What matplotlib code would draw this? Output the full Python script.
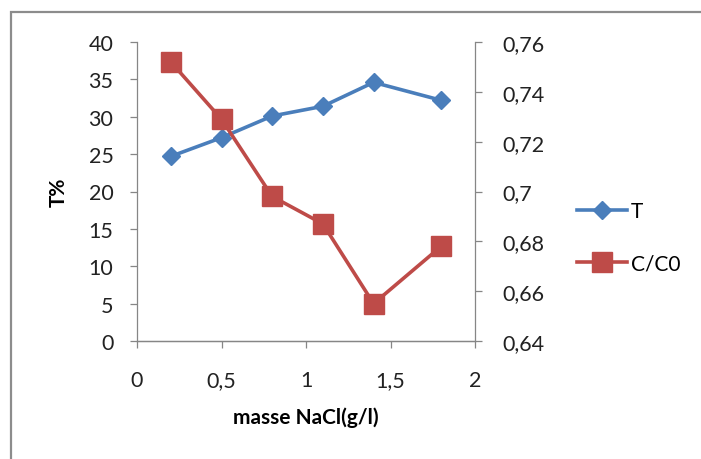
import matplotlib.pyplot as plt
from matplotlib.patches import Rectangle
from matplotlib.lines import Line2D
from matplotlib.ticker import FuncFormatter, MultipleLocator

# données
masse = [0.2, 0.5, 0.8, 1.1, 1.4, 1.8]
T = [24.7, 27.2, 30.1, 31.4, 34.6, 32.2]
C_C0 = [0.752, 0.729, 0.698, 0.687, 0.655, 0.678]

bleu = '#4a7ebb'
rouge = '#be4b48'
gris = '#868686'

plt.rcParams['font.family'] = ['Lato', 'DejaVu Sans']


def virgule(v, pos):
    return f"{round(v, 4):g}".replace('.', ',')


fig = plt.figure(figsize=(7.01, 4.6), dpi=100)

# cadre du graphique
fig.patches.append(Rectangle((11 / 701, -0.1), 1.2, 1 - 13 / 460 + 0.1,
                             transform=fig.transFigure, fill=False,
                             edgecolor='#8c8c8c', linewidth=1.6))

ax = fig.add_axes([137 / 701, 1 - 342 / 460, (475 - 137) / 701, 299 / 460])
ax2 = ax.twinx()

ax.plot(masse, T, color=bleu, linewidth=2.6, marker='D', markersize=9,
        solid_joinstyle='round', solid_capstyle='round', zorder=3)
ax2.plot(masse, C_C0, color=rouge, linewidth=2.6, marker='s', markersize=14,
         solid_joinstyle='round', solid_capstyle='round', zorder=3)

ax.set_xlim(0, 2)
ax.set_ylim(0, 40)
ax2.set_ylim(0.64, 0.76)
ax.xaxis.set_major_locator(MultipleLocator(0.5))
ax.yaxis.set_major_locator(MultipleLocator(5))
ax2.yaxis.set_major_locator(MultipleLocator(0.02))
ax.xaxis.set_major_formatter(FuncFormatter(virgule))
ax2.yaxis.set_major_formatter(FuncFormatter(virgule))

for a in (ax, ax2):
    for s in a.spines.values():
        s.set_color(gris)
        s.set_linewidth(0.9)
    a.spines['top'].set_visible(False)
    a.tick_params(direction='out', length=5, color=gris, width=0.9,
                  labelsize=15.5, labelcolor='#222222')
ax2.spines['left'].set_visible(False)
ax.spines['right'].set_visible(False)
ax.tick_params(axis='x', pad=16)
ax.tick_params(axis='y', pad=12)
ax2.tick_params(axis='y', pad=15)

ax.set_xlabel('masse NaCl(g/l)', fontsize=15, fontweight='bold', labelpad=12)
ax.set_ylabel('T%', fontsize=15, fontweight='bold', labelpad=14)

poignees = [Line2D([], [], color=bleu, linewidth=2.6, marker='D', markersize=9),
            Line2D([], [], color=rouge, linewidth=2.6, marker='s', markersize=14)]
fig.legend(poignees, ['T', 'C/C0'], loc='center left',
           bbox_to_anchor=(558 / 701, 1 - 238 / 460), frameon=False,
           fontsize=15, handlelength=2.4, handletextpad=0.2, labelspacing=1.55)

plt.savefig('out.png', dpi=100)
